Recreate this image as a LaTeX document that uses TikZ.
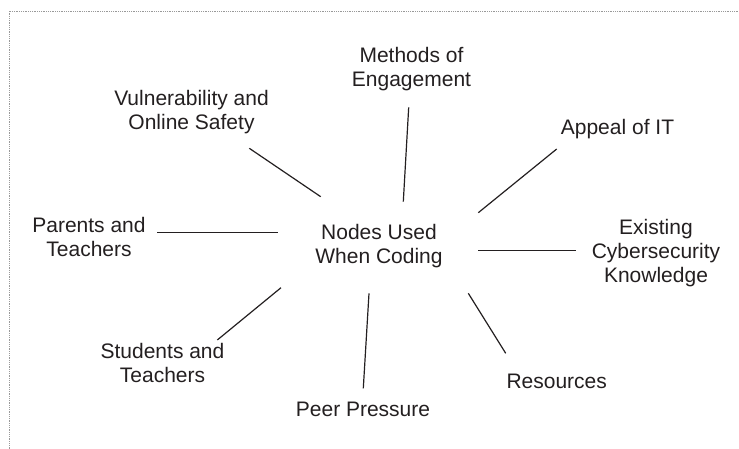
\documentclass[tikz,border=0pt]{standalone}
\usepackage{fontspec}
\setmainfont{Liberation Sans}
\definecolor{ink}{RGB}{35,31,32}
\begin{document}
\begin{tikzpicture}[x=1pt,y=-1pt,
  lbl/.style={inner sep=0pt, anchor=base, align=center, text=ink,
    font=\fontsize{21}{24}\selectfont},
  spoke/.style={draw=ink, line width=1.2pt},
  frame/.style={draw=gray!80, line width=0.8pt, dash pattern=on 0.7pt off 1.1pt}]
\useasboundingbox (0,0) rectangle (739,449);
\draw[frame] (9,449) -- (9,11) -- (739,11);

\node[lbl] (hub) at (379,263.3) {Nodes Used\\When Coding};
\node[lbl] (meth) at (411.5,86.7) {Methods of\\Engagement};
\node[lbl] (vuln) at (191.5,130) {Vulnerability and\\Online Safety};
\node[lbl] (appeal) at (617.5,134.3) {Appeal of IT};
\node[lbl] (exist) at (656,282.7) {Existing\\Cybersecurity\\Knowledge};
\node[lbl] (parents) at (89,256.7) {Parents and\\Teachers};
\node[lbl] (students) at (162.5,382.7) {Students and\\Teachers};
\node[lbl] (peer) at (363,416.7) {Peer Pressure};
\node[lbl] (res) at (556.7,388.3) {Resources};

\coordinate (m1) at (403.3,201.7); \coordinate (m2) at (408.7,107.3);
\coordinate (v1) at (320.7,196.7); \coordinate (v2) at (249.3,148.3);
\coordinate (a1) at (478.3,212.7); \coordinate (a2) at (556.7,149);
\coordinate (e1) at (478.3,250.7); \coordinate (e2) at (576,250.7);
\coordinate (p1) at (277.7,232.7); \coordinate (p2) at (156.7,232.7);
\coordinate (s1) at (281,287.7);   \coordinate (s2) at (217.3,340);
\coordinate (q1) at (369,293.3);   \coordinate (q2) at (363.3,388.3);
\coordinate (r1) at (468.3,293.3); \coordinate (r2) at (505.7,353.3);

\draw[spoke] (m1) -- (m2);
\draw[spoke] (v1) -- (v2);
\draw[spoke] (a1) -- (a2);
\draw[spoke] (e1) -- (e2);
\draw[spoke] (p1) -- (p2);
\draw[spoke] (s1) -- (s2);
\draw[spoke] (q1) -- (q2);
\draw[spoke] (r1) -- (r2);
\end{tikzpicture}
\end{document}
